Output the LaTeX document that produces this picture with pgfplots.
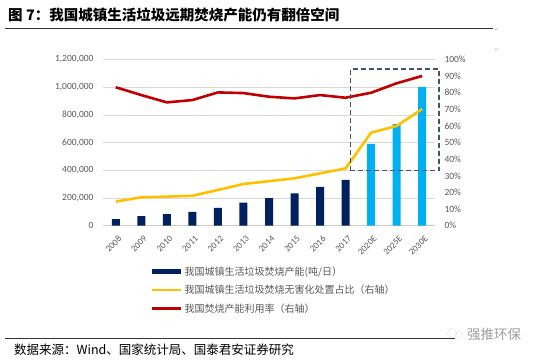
\documentclass[border=0pt]{standalone}
\usepackage{fontspec}
\setmainfont{Carlito}
\newfontfamily\cjk{Noto Sans CJK SC}
\newfontfamily\dejavu{DejaVu Sans}
\usepackage{pgfplots}
\pgfplotsset{compat=1.18}
\definecolor{navy}{HTML}{002060}
\definecolor{lblue}{HTML}{00B0F0}
\definecolor{gold}{HTML}{FFC000}
\definecolor{dred}{HTML}{C00000}
\definecolor{boxc}{HTML}{44546A}
\definecolor{tickc}{HTML}{595959}
\begin{document}
\begin{tikzpicture}
\useasboundingbox (0pt,0pt) rectangle (543pt,362pt);
\fill[white] (0pt,0pt) rectangle (543pt,362pt);
% title
\node[anchor=west, inner sep=0pt, font=\cjk\bfseries\fontsize{14.5}{15}\selectfont] at (8pt,347pt) {图 7：我国城镇生活垃圾远期焚烧产能仍有翻倍空间};
\draw[black!80, line width=0.8pt] (5pt,334pt) -- (493pt,334pt);
\node[font=\dejavu\fontsize{5}{5}\selectfont, text=gray!70] at (497pt,332pt) {↵};
\node[font=\dejavu\fontsize{5}{5}\selectfont, text=gray!70] at (497pt,312pt) {↵};
% source
\draw[black!80, line width=0.6pt] (5pt,23.7pt) -- (455pt,23.7pt);
\node[anchor=west, inner sep=0pt, font=\cjk\fontsize{12.5}{13}\selectfont] at (14pt,12pt) {数据来源：Wind、国家统计局、国泰君安证券研究};
\node[anchor=west, inner sep=0pt, font=\cjk\fontsize{13.5}{14}\selectfont, text=gray!75] at (467pt,28pt) {强推环保};
\draw[gray!60, densely dotted] (452pt,29pt) circle (4.5pt);
\draw[gray!60, densely dotted] (459pt,27pt) circle (3.5pt);
% left axis with bars
\begin{axis}[
  at={(103pt,136.3pt)}, anchor=south west,
  scale only axis, width=332pt, height=166.2pt,
  xmin=-0.5, xmax=12.5, ymin=0, ymax=1200000,
  axis x line*=bottom, axis y line*=left,
  y axis line style={draw=none},
  x axis line style={gray!40, line width=0.8pt},
  major tick length=0pt,
  xtick={0,...,12},
  xticklabels={2008,2009,2010,2011,2012,2013,2014,2015,2016,2017,2020E,2025E,2030E},
  xticklabel style={xshift=2pt, yshift=-8pt, rotate=45, anchor=north east, font=\fontsize{9}{9}\selectfont, text=tickc, inner sep=1pt},
  ytick={0,200000,...,1200000},
  yticklabel style={font=\fontsize{9.5}{10}\selectfont, text=tickc, xshift=-6pt},
  scaled y ticks=false,
  /pgf/number format/.cd, 1000 sep={,}, fixed, assume math mode=true,
  /pgfplots/.cd,
  ymajorgrids, grid style={gray!30, line width=0.6pt},
  ybar, bar width=8pt, bar shift=0pt,
]
\addplot[fill=navy, draw=none] coordinates {(0,48000) (1,70000) (2,84000) (3,99000) (4,128000) (5,166000) (6,200000) (7,234000) (8,280000) (9,330000)};
\addplot[fill=lblue, draw=none] coordinates {(10,590000) (11,734000) (12,1003000)};
\end{axis}
% right axis with lines
\begin{axis}[
  at={(103pt,136.3pt)}, anchor=south west,
  scale only axis, width=332pt, height=166.2pt,
  xmin=-0.5, xmax=12.5, ymin=0, ymax=100,
  axis x line=none, axis y line*=right,
  y axis line style={draw=none},
  major tick length=0pt,
  ytick={0,10,...,100},
  yticklabels={0\%,10\%,20\%,30\%,40\%,50\%,60\%,70\%,80\%,90\%,100\%},
  yticklabel style={font=\fontsize{9.5}{10}\selectfont, text=tickc, anchor=west, xshift=6pt},
  clip=false,
  legend cell align=left,
  legend image code/.code={\draw[#1] (0pt,0pt) -- (29pt,0pt);},
  legend style={at={(rel axis cs:0.1416,-0.238)}, anchor=north west, draw=none, fill=none,
    font=\cjk\fontsize{10}{10}\selectfont, text=tickc, row sep=6.5pt, inner sep=0pt,
    nodes={inner sep=1pt}},
]
\addlegendimage{navy, line width=4.5pt}
\addlegendentry{我国城镇生活垃圾焚烧产能(吨/日）}
\addplot[gold, line width=2.6pt, line join=round] coordinates {(0,14.5) (1,17.1) (2,17.5) (3,18.0) (4,21.5) (5,25.1) (6,26.8) (7,28.5) (8,31.5) (9,34.5) (10,56.0) (11,60.0) (12,70.2)};
\addlegendentry{我国城镇生活垃圾焚烧无害化处置占比（右轴）}
\addplot[dred, line width=2.6pt, line join=round] coordinates {(0,83.3) (1,78.6) (2,74.2) (3,75.6) (4,80.2) (5,79.8) (6,77.6) (7,76.6) (8,78.6) (9,77.0) (10,80.0) (11,85.7) (12,90.1)};
\addlegendentry{我国焚烧产能利用率（右轴）}
\draw[boxc, dashed, line width=1.4pt, dash pattern=on 5pt off 3pt] (axis cs:9.18,33.1) rectangle (axis cs:12.65,94.3);
\end{axis}
\end{tikzpicture}
\end{document}
